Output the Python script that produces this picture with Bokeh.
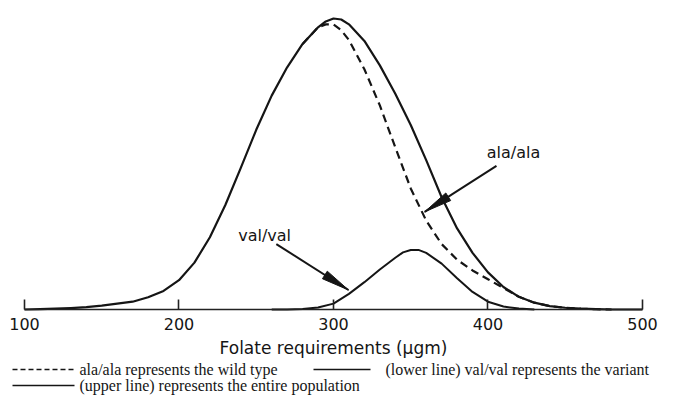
import math
from bokeh.plotting import figure
from bokeh.models import Range1d, LinearAxis, FixedTicker, Arrow, Label
from bokeh.embed import file_html
from bokeh.resources import INLINE

# ---- data (y in arbitrary frequency units) ----
x_ticks = [100, 200, 300, 400, 500]

x_total = [100, 110, 120, 130, 140, 150, 160, 170, 180, 190, 200, 210, 220, 230, 240,
           250, 260, 270, 280, 290, 295, 300, 305, 310, 320, 330, 340, 350, 360, 370,
           380, 390, 400, 410, 420, 430, 440, 450, 460, 470, 480, 500]
y_total = [0, 0.3, 0.8, 1.5, 2.5, 4, 6, 8, 12.5, 19, 30, 48, 74, 107, 145,
           184, 219, 248, 272, 289, 295, 298, 297, 292, 275, 250, 221, 189, 153, 115,
           83, 58, 38, 23, 13, 7, 3.5, 1.8, 0.8, 0.3, 0, 0]

x_ala = [280, 290, 295, 300, 305, 310, 320, 330, 340, 350, 360, 370, 380, 390, 400,
         410, 420, 430, 440, 450, 460, 470, 480]
y_ala = [272, 289, 292, 292, 286, 276, 246, 209, 166, 124, 91, 67, 51, 40, 31,
         22, 13, 7, 3.5, 1.8, 0.8, 0.3, 0]

x_val = [260, 270, 280, 290, 300, 310, 320, 330, 340, 345, 350, 355, 360, 370, 380,
         390, 400, 410, 420, 430]
y_val = [0, 0, 0.5, 2, 6, 16, 28, 41, 53, 58.5, 61, 61, 58, 47, 32,
         18, 8, 3, 1, 0]

axis_title = "Folate requirements (\u03bcgm)"
legend_labels = ["ala/ala represents the wild type",
                 "(lower line) val/val represents the variant",
                 "(upper line) represents the entire population"]

# annotation arrows: (label, label x, label y, tail x, tail y, tip x, tip y)
annotations = [("val/val", 255.4, 76, 263, 67, 309.7, 20),
               ("ala/ala", 416.5, 161, 405.5, 147, 359, 100)]

INK = "#151515"
W, H = 658, 397
AXIS_Y = 309           # canvas row of the x axis line
SY = 0.9765            # pixels per y unit
X0, SX = 84.47, 1.545  # left data edge, pixels per x unit

p = figure(width=W, height=H, output_backend="svg", toolbar_location=None,
           x_range=Range1d(X0, X0 + W / SX),
           y_range=Range1d(-(H - AXIS_Y) / SY, AXIS_Y / SY),
           x_axis_type=None, y_axis_type=None,
           min_border_left=0, min_border_right=0, min_border_top=0, min_border_bottom=0)
p.outline_line_color = None
p.background_fill_color = "white"
p.border_fill_color = "white"

xaxis = LinearAxis(ticker=FixedTicker(ticks=x_ticks), bounds=(100, 500),
                   fixed_location=0,
                   axis_label=axis_title,
                   major_tick_in=10, major_tick_out=0,
                   minor_tick_in=0, minor_tick_out=0,
                   axis_line_width=1.6, axis_line_color="#222222",
                   major_tick_line_width=1.6, major_tick_line_color="#222222",
                   major_label_text_font="DejaVu Sans", major_label_text_font_size="16px",
                   major_label_text_color=INK, major_label_standoff=8,
                   axis_label_text_font="DejaVu Sans", axis_label_text_font_size="17px",
                   axis_label_text_font_style="normal", axis_label_text_color=INK,
                   axis_label_standoff=5)
p.add_layout(xaxis, "below")

p.line(x_total, y_total, line_width=2.2, line_color=INK, line_join="round")
p.line(x_val, y_val, line_width=2.0, line_color=INK, line_join="round")
p.line(x_ala, y_ala, line_width=2.2, line_color=INK, line_dash="8 5")

# arrows with long, narrow filled heads (head size in pixels)
HEAD_L, HEAD_W = 28, 4.5
hx, hy = [], []
for name, lx, ly, x0, y0, x1, y1 in annotations:
    p.add_layout(Arrow(x_start=x0, y_start=y0, x_end=x1, y_end=y1, end=None,
                       line_width=2, line_color=INK))
    dxp, dyp = (x1 - x0) * SX, (y1 - y0) * SY
    n = math.hypot(dxp, dyp)
    ux, uy = dxp / n, dyp / n
    bx, by = -HEAD_L * ux, -HEAD_L * uy
    hx.append([x1, x1 + (bx - HEAD_W * uy) / SX, x1 + (bx + HEAD_W * uy) / SX])
    hy.append([y1, y1 + (by + HEAD_W * ux) / SY, y1 + (by - HEAD_W * ux) / SY])
    p.add_layout(Label(x=lx, y=ly, text=name, text_align="center", text_baseline="middle",
                       text_font="DejaVu Sans", text_font_size="16px", text_color=INK))
p.patches(hx, hy, fill_color=INK, line_color=INK, line_width=1)

# ---- legend: two lines of text under the axis title (screen px from frame bottom-left) ----
ROW1, ROW2 = H - 369, H - 385

def sample(x0, x1, y, dash):
    p.add_layout(Arrow(x_start=x0, y_start=y, x_end=x1, y_end=y,
                       start_units="screen", end_units="screen", start=None, end=None,
                       line_color=INK, line_width=1.3, line_dash=dash))

def text(x, y, s):
    p.add_layout(Label(x=x, y=y, x_units="screen", y_units="screen", text=s,
                       text_align="left", text_baseline="middle",
                       text_font="Liberation Serif", text_font_size="16px", text_color=INK))

sample(12, 74, ROW1, "5 3")
text(79, ROW1, legend_labels[0])
sample(313, 370, ROW1, "solid")
text(385, ROW1, legend_labels[1])
sample(12, 74, ROW2, "solid")
text(79, ROW2, legend_labels[2])

open("out.html", "w").write(file_html(p, INLINE))
